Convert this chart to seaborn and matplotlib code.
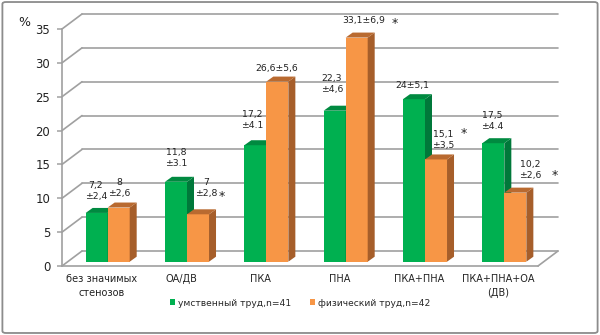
import numpy as np
import pandas as pd
import seaborn as sns
import matplotlib
matplotlib.use("Agg")
import matplotlib.pyplot as plt
from matplotlib.patches import Polygon, FancyBboxPatch

# ---- data ----
categories = ["без значимых\nстенозов", "ОА/ДВ", "ПКА", "ПНА", "ПКА+ПНА", "ПКА+ПНА+ОА\n(ДВ)"]
series_names = ["умственный труд,n=41", "физический труд,n=42"]
mental = [7.2, 11.8, 17.2, 22.3, 24.0, 17.5]
physical = [8.0, 7.0, 26.6, 33.1, 15.1, 10.2]
mental_labels = ["7,2\n±2,4", "11,8\n±3.1", "17,2\n±4.1", "22,3\n±4,6", "24±5,1", "17,5\n±4.4"]
physical_labels = ["8\n±2,6", "7\n±2,8", "26,6±5,6", "33,1±6,9", "15,1\n±3,5", "10,2\n±2,6"]
y_ticks = [0, 5, 10, 15, 20, 25, 30, 35]

df = pd.DataFrame({
    "cat": categories * 2,
    "group": [series_names[0]] * 6 + [series_names[1]] * 6,
    "value": mental + physical,
})

sns.set_theme(style="white")
plt.rcParams["font.family"] = ["DejaVu Sans"]

W, H = 600, 335
fig = plt.figure(figsize=(W / 100, H / 100), dpi=100)
ax_l, ax_r, ax_t, ax_b = 62, 538, 29, 266
ax = fig.add_axes([ax_l / W, 1 - ax_b / H, (ax_r - ax_l) / W, (ax_b - ax_t) / H])
ax.set_xlim(-0.5, 5.5)
ax.set_ylim(0, 35)

px_x = (ax_r - ax_l) / 6.0
px_y = (ax_b - ax_t) / 35.0

green, orange = "#00B050", "#F79646"
green_side, green_top = "#00783A", "#008A40"
orange_side, orange_top = "#A65E2A", "#B96A30"
grid_c = "#A0A0A0"

sns.barplot(data=df, x="cat", y="value", hue="group", order=categories,
            hue_order=series_names, palette=[green, orange], width=0.555,
            dodge=True, ax=ax, saturation=1, errorbar=None, legend=True,
            linewidth=0)

# back wall / floor
wdx, wdy = 20 / px_x, 15 / px_y
for v in y_ticks:
    ax.plot([-0.5 + wdx, 5.5 + wdx], [v + wdy, v + wdy], color=grid_c, lw=1.2,
            clip_on=False, zorder=0.5)
    ax.plot([-0.5, -0.5 + wdx], [v, v + wdy], color=grid_c, lw=1.2,
            clip_on=False, zorder=0.5)
ax.plot([5.5, 5.5 + wdx], [0, wdy], color=grid_c, lw=1.2, clip_on=False, zorder=0.5)

# 3D bars
bdx, bdy = 6 / px_x, 4.3 / px_y
ddx, ddy = 7 / px_x, 5 / px_y
for ci, cont in enumerate(ax.containers):
    side_c = [green_side, orange_side][ci]
    top_c = [green_top, orange_top][ci]
    z = 2 + ci
    for p in cont.patches:
        p.set_x(p.get_x() + bdx)
        p.set_y(bdy)
        p.set_zorder(z)
        x, w, h = p.get_x(), p.get_width(), p.get_height()
        y0, y1 = bdy, bdy + h
        ax.add_patch(Polygon([(x + w, y0), (x + w + ddx, y0 + ddy), (x + w + ddx, y1 + ddy), (x + w, y1)],
                             closed=True, facecolor=side_c, edgecolor="none", zorder=z + 0.1, clip_on=False))
        ax.add_patch(Polygon([(x, y1), (x + ddx, y1 + ddy), (x + w + ddx, y1 + ddy), (x + w, y1)],
                             closed=True, facecolor=top_c, edgecolor="none", zorder=z + 0.1, clip_on=False))

# axes styling
for s in ["top", "right"]:
    ax.spines[s].set_visible(False)
for s in ["left", "bottom"]:
    ax.spines[s].set_color(grid_c)
    ax.spines[s].set_linewidth(1.2)
    ax.spines[s].set_zorder(0.6)
ax.set_yticks(y_ticks)
ax.set_yticklabels([str(v) for v in y_ticks], fontsize=8.4, color="#222222")
ax.set_xticks(range(6))
ax.set_xticklabels(categories, fontsize=7.0, color="#222222", linespacing=1.5)
ax.set_xticks(np.arange(-0.5, 6, 1), minor=True)
ax.tick_params(axis="x", which="major", length=0, pad=6)
ax.tick_params(axis="x", which="minor", length=3.5, width=1.1, color=grid_c, direction="out")
ax.tick_params(axis="y", length=3.5, width=1.1, color=grid_c, direction="out", pad=5, left=True)
ax.set_xlabel("")
ax.set_ylabel("")
ax.grid(False)
ax.patch.set_alpha(0)

fig.text(24 / W, 1 - 22 / H, "%", fontsize=9, ha="center", va="center", color="#222222")

# value labels (pixel positions)
def ftext(px, py, s, **kw):
    fig.text(px / W, 1 - py / H, s, ha="center", va="center", fontsize=6.7,
             color="#222222", linespacing=1.4, **kw)

g_pos = [(96, 191), (176, 158), (252, 120), (332, 84), (412, 85), (492, 121)]
o_pos = [(119, 188), (206, 188), (277, 68), (364, 21), (443, 140), (530, 170)]
for (px, py), s in zip(g_pos, mental_labels):
    ftext(px, py, s)
for (px, py), s in zip(o_pos, physical_labels):
    ftext(px, py, s)
for px, py in [(222, 196), (395, 23), (464, 134), (555, 176)]:
    fig.text(px / W, 1 - py / H, "*", ha="center", va="center", fontsize=9, color="#222222")

# legend
sns.move_legend(ax, "center", bbox_to_anchor=(0.5, 1 - 303 / H), bbox_transform=fig.transFigure,
                ncol=2, frameon=False, title=None, fontsize=6.6, handlelength=0.6,
                handleheight=0.6, handletextpad=0.3, columnspacing=2.0)

# outer border
fig.patches.append(FancyBboxPatch((0.004, 0.006), 0.992, 0.988,
                                  boxstyle="round,pad=0,rounding_size=0.006",
                                  transform=fig.transFigure, fill=False,
                                  edgecolor="#8C8C8C", linewidth=1.3))

fig.savefig("out.png", dpi=100)
